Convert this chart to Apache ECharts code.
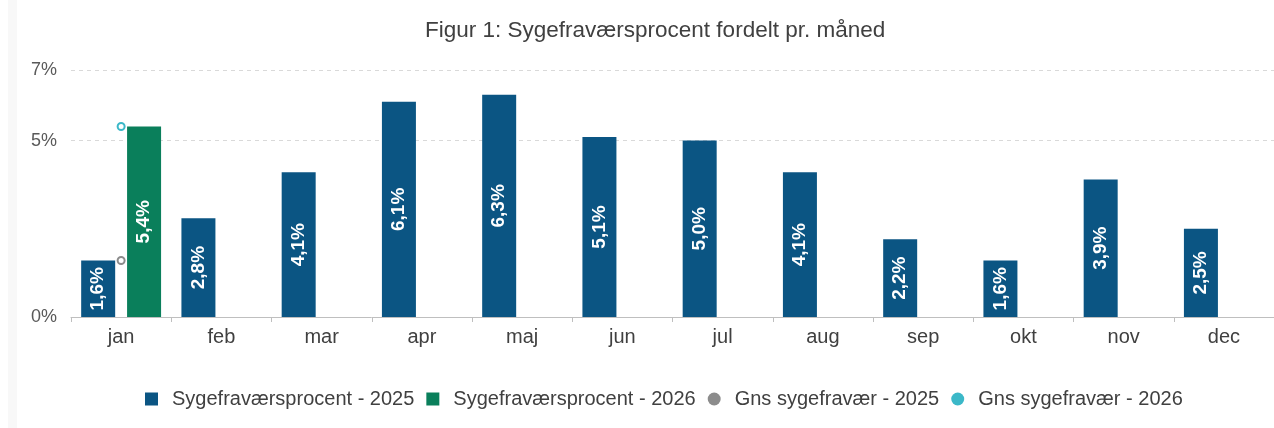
<!DOCTYPE html>
<html>
<head>
<meta charset="utf-8">
<script src="https://cdn.jsdelivr.net/npm/echarts@6/dist/echarts.min.js"></script>
<style>
  html, body { margin: 0; padding: 0; background: #fff; }
  #chart { width: 1274px; height: 428px; }
</style>
</head>
<body>
<div id="chart"></div>
<script>
// data
var months = ['jan', 'feb', 'mar', 'apr', 'maj', 'jun', 'jul', 'aug', 'sep', 'okt', 'nov', 'dec']
var pct2025 = [1.6, 2.8, 4.1, 6.1, 6.3, 5.1, 5.0, 4.1, 2.2, 1.6, 3.9, 2.5]
var pct2026 = [5.4, null, null, null, null, null, null, null, null, null, null, null]
var gns2025 = [1.6, null, null, null, null, null, null, null, null, null, null, null]
var gns2026 = [5.4, null, null, null, null, null, null, null, null, null, null, null]
var seriesNames = ['Sygefraværsprocent - 2025', 'Sygefraværsprocent - 2026', 'Gns sygefravær - 2025', 'Gns sygefravær - 2026']

var textColor = '#404040'
var font = 'Liberation Sans, Arial, sans-serif'

function pctLabel(p) {
  return p.value.toFixed(1).replace('.', ',') + '%'
}

var barLabel = {
  show: true,
  position: 'inside',
  rotate: 90,
  color: '#fff',
  fontWeight: 'bold',
  fontSize: 19,
  fontFamily: font,
  formatter: pctLabel
}

var chart = echarts.init(document.getElementById('chart'), null, { renderer: 'canvas' })
chart.setOption({
  backgroundColor: '#fff',
  animation: false,
  graphic: [{
    type: 'rect',
    shape: { x: 8, y: 0, width: 9, height: 428 },
    style: { fill: '#f8f8f8' },
    z: -1
  }],
  title: {
    text: 'Figur 1: Sygefraværsprocent fordelt pr. måned',
    left: 420,
    top: 14,
    textStyle: { color: textColor, fontSize: 22.5, fontWeight: 'normal', fontFamily: font }
  },
  legend: {
    top: 384,
    left: 140,
    itemWidth: 13,
    itemHeight: 13,
    itemGap: 12,
    textStyle: { color: textColor, fontSize: 20, fontFamily: font, padding: [0, 0, 0, 9] },
    data: [
      { name: seriesNames[0], icon: 'rect' },
      { name: seriesNames[1], icon: 'rect' },
      { name: seriesNames[2], icon: 'circle' },
      { name: seriesNames[3], icon: 'circle' }
    ]
  },
  grid: { left: 71, top: 70, width: 1209, height: 247 },
  xAxis: {
    type: 'category',
    data: months,
    axisLine: { lineStyle: { color: '#bfbfbf' } },
    axisTick: { show: true, length: 5, lineStyle: { color: '#bfbfbf' } },
    axisLabel: { color: textColor, fontSize: 20, fontFamily: font, margin: 10 }
  },
  yAxis: {
    type: 'value',
    min: 0,
    max: 7,
    interval: 5,
    axisLine: { show: false },
    axisTick: { show: false },
    axisLabel: { color: '#595959', fontSize: 18, fontFamily: font, margin: 14, formatter: '{value}%' },
    splitLine: { lineStyle: { color: '#d9d9d9', type: [4, 4] } }
  },
  series: [
    {
      name: seriesNames[0],
      type: 'bar',
      data: pct2025,
      barWidth: 34,
      barGap: '35%',
      itemStyle: { color: '#0b5583' },
      label: barLabel
    },
    {
      name: seriesNames[1],
      type: 'bar',
      data: pct2026,
      barWidth: 34,
      itemStyle: { color: '#0a7f5b' },
      label: barLabel
    },
    {
      name: seriesNames[2],
      type: 'line',
      data: gns2025,
      symbol: 'emptyCircle',
      symbolSize: 7,
      showSymbol: true,
      itemStyle: { color: '#8c8c8c' },
      lineStyle: { color: '#8c8c8c' },
      z: 5
    },
    {
      name: seriesNames[3],
      type: 'line',
      data: gns2026,
      symbol: 'emptyCircle',
      symbolSize: 7,
      showSymbol: true,
      itemStyle: { color: '#3bb8c8' },
      lineStyle: { color: '#3bb8c8' },
      z: 5
    }
  ]
})
</script>
</body>
</html>
